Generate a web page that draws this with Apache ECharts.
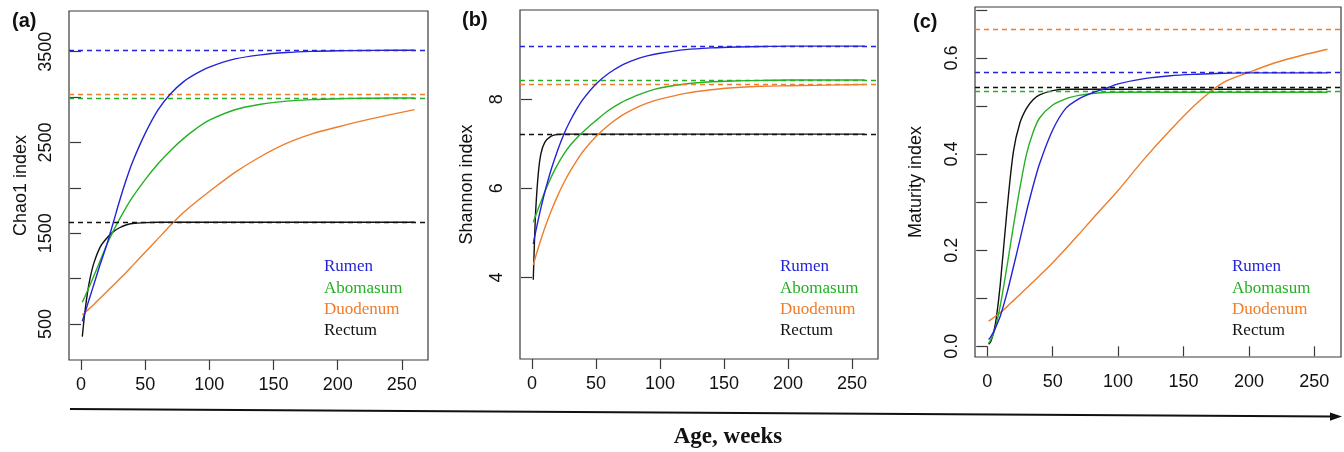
<!DOCTYPE html>
<html>
<head>
<meta charset="utf-8">
<script src="https://cdn.jsdelivr.net/npm/echarts@6/dist/echarts.min.js"></script>
<style>html,body{margin:0;padding:0;background:#fff}#c{width:1344px;height:452px}</style>
</head>
<body>
<div id="c"></div>
<script>
// ---- data ----
const weeks = [1,2,3,5,7,10,15,20,25,30,35,40,50,60,70,80,90,100,120,140,160,180,200,220,240,260];
const groups = ['Rumen','Abomasum','Duodenum','Rectum'];

const chaoRumen     = [530,575,620,710,800,935,1160,1370,1610,1855,2080,2280,2600,2860,3040,3170,3260,3330,3420,3465,3490,3503,3510,3513,3515,3515];
const chaoAbomasum  = [740,770,800,865,930,1030,1200,1370,1520,1655,1780,1895,2090,2265,2415,2545,2655,2745,2860,2920,2955,2972,2982,2987,2990,2990];
const chaoDuodenum  = [600,612,625,650,675,715,785,855,925,995,1065,1140,1290,1440,1590,1730,1850,1960,2170,2345,2490,2595,2670,2740,2803,2862];
const chaoRectum    = [360,500,630,840,1000,1170,1350,1445,1515,1560,1590,1607,1617,1620,1620,1620,1620,1620,1620,1620,1620,1620,1620,1620,1620,1620];
const chaoPlateau   = [3515,2990,3030,1620];

const shanRumen     = [4.75,4.90,5.04,5.31,5.56,5.91,6.42,6.85,7.22,7.52,7.78,8.00,8.34,8.58,8.76,8.88,8.97,9.03,9.11,9.15,9.17,9.18,9.19,9.19,9.19,9.19];
const shanAbomasum  = [5.24,5.32,5.40,5.55,5.70,5.92,6.25,6.53,6.77,6.97,7.13,7.27,7.52,7.75,7.93,8.06,8.17,8.25,8.34,8.39,8.41,8.42,8.43,8.43,8.43,8.43];
const shanDuodenum  = [4.28,4.38,4.48,4.67,4.85,5.11,5.49,5.83,6.13,6.39,6.62,6.83,7.16,7.42,7.63,7.79,7.91,8.00,8.13,8.21,8.26,8.29,8.30,8.31,8.32,8.33];
const shanRectum    = [3.95,4.85,5.55,6.35,6.78,7.03,7.17,7.21,7.215,7.215,7.215,7.215,7.215,7.215,7.215,7.215,7.215,7.215,7.215,7.215,7.215,7.215,7.215,7.215,7.215,7.215];
const shanPlateau   = [9.19,8.43,8.33,7.215];

const matRumen      = [0.014,0.017,0.021,0.031,0.043,0.063,0.110,0.165,0.222,0.280,0.333,0.380,0.450,0.495,0.515,0.527,0.536,0.546,0.557,0.563,0.566,0.568,0.569,0.569,0.569,0.569];
const matAbomasum   = [0.006,0.010,0.015,0.028,0.047,0.085,0.165,0.250,0.330,0.400,0.445,0.475,0.502,0.515,0.522,0.526,0.528,0.5285,0.5285,0.5285,0.5285,0.5285,0.5285,0.5285,0.5285,0.5285];
const matDuodenum   = [0.052,0.054,0.056,0.060,0.064,0.070,0.082,0.095,0.108,0.121,0.134,0.147,0.174,0.203,0.233,0.264,0.294,0.324,0.390,0.450,0.505,0.548,0.570,0.590,0.605,0.618];
const matRectum     = [0.004,0.007,0.012,0.030,0.060,0.130,0.280,0.405,0.465,0.495,0.513,0.523,0.532,0.535,0.535,0.535,0.535,0.535,0.535,0.535,0.535,0.535,0.535,0.535,0.535,0.535];
const matPlateau    = [0.569,0.5285,0.66,0.535];

const xTicks = [0,50,100,150,200,250];
const chaoTicks = [500,1000,1500,2000,2500,3000,3500];
const chaoLabels = [500,1500,2500,3500];
const shanTicks = [4,6,8];
const shanLabels = [4,6,8];
const matTicks = [0,0.1,0.2,0.3,0.4,0.5,0.6,0.7];
const matLabels = [0,0.2,0.4,0.6];

const panelTags = ['(a)','(b)','(c)'];
const yNames = ['Chao1 index','Shannon index','Maturity index'];
const xTitle = 'Age, weeks';

// ---- styling ----
const colors = ['#2323d8','#25b025','#ef7d2b','#111111'];
const axisFont = '"Liberation Sans", Arial, sans-serif';
const serif = '"Liberation Serif", "Times New Roman", serif';

const panels = [
  {grid:{left:69,top:11,width:359,height:349}, ymin:103, ymax:3948, ticks:chaoTicks, labels:chaoLabels,
   fmt:v=>String(v), series:[chaoRumen,chaoAbomasum,chaoDuodenum,chaoRectum], plateau:chaoPlateau, nameGap:39,
   tag:[12,29], legend:[324,267]},
  {grid:{left:520,top:10,width:358,height:349}, ymin:2.17, ymax:10.0, ticks:shanTicks, labels:shanLabels,
   fmt:v=>String(v), series:[shanRumen,shanAbomasum,shanDuodenum,shanRectum], plateau:shanPlateau, nameGap:44,
   tag:[462,28], legend:[780,267]},
  {grid:{left:975,top:7,width:366,height:350}, ymin:-0.0223, ymax:0.706, ticks:matTicks, labels:matLabels,
   fmt:v=>v.toFixed(1), series:[matRumen,matAbomasum,matDuodenum,matRectum], plateau:matPlateau, nameGap:50,
   tag:[913,30], legend:[1232,267]}
];

const grids=[], xAxes=[], yAxes=[], series=[], graphics=[];
panels.forEach((p,i)=>{
  grids.push(Object.assign({show:true, borderColor:'#3a3a3a', borderWidth:1.2, backgroundColor:'transparent'}, p.grid));
  xAxes.push({gridIndex:i, type:'value', min:-9.36, max:270.36,
    axisLine:{show:false}, splitLine:{show:false},
    axisTick:{show:true, customValues:xTicks, length:10, lineStyle:{color:'#3a3a3a', width:1.2}},
    axisLabel:{customValues:xTicks, margin:16, fontSize:18, fontFamily:axisFont, color:'#111'}});
  yAxes.push({gridIndex:i, type:'value', min:p.ymin, max:p.ymax,
    name:yNames[i], nameLocation:'middle', nameGap:p.nameGap, nameRotate:90,
    nameTextStyle:{fontSize:18, fontFamily:axisFont, color:'#111'},
    axisLine:{show:false}, splitLine:{show:false},
    axisTick:{show:true, customValues:p.ticks, length:11, lineStyle:{color:'#3a3a3a', width:1.2}},
    axisLabel:{customValues:p.labels, rotate:90, margin:14, fontSize:18, fontFamily:axisFont, color:'#111', formatter:p.fmt}});
  p.series.forEach((vals,k)=>{
    series.push({type:'line', name:groups[k]+i, xAxisIndex:i, yAxisIndex:i, showSymbol:false, symbol:'none',
      smooth:0.3, z:5-k,
      data:weeks.map((w,j)=>[w,vals[j]]),
      lineStyle:{color:colors[k], width:1.4},
      markLine:{silent:true, symbol:'none', label:{show:false},
        lineStyle:{color:colors[k], type:[5,4], width:1.4},
        data:[{yAxis:p.plateau[k]}]}
    });
  });
  graphics.push({type:'text', left:p.tag[0], top:p.tag[1]-18, style:{text:panelTags[i], font:'bold 20px "Liberation Sans", Arial, sans-serif', fill:'#111'}});
  groups.forEach((g,k)=>{
    graphics.push({type:'text', x:p.legend[0], y:p.legend[1]+k*21.3, style:{text:g, font:'17px '+serif, fill:colors[k], verticalAlign:'middle'}});
  });
});

graphics.push({type:'line', shape:{x1:70,y1:409,x2:1332,y2:416.5}, style:{stroke:'#111', lineWidth:2}});
graphics.push({type:'polygon', shape:{points:[[1342,416.6],[1330,412.4],[1330,420.8]]}, style:{fill:'#111'}});
graphics.push({type:'text', x:728, y:437, style:{text:xTitle, font:'bold 23px '+serif, fill:'#111', align:'center', verticalAlign:'middle'}});

const chart = echarts.init(document.getElementById('c'), null, {renderer:'canvas'});
chart.setOption({animation:false, backgroundColor:'#fff', grid:grids, xAxis:xAxes, yAxis:yAxes, series:series, graphic:graphics});
</script>
</body>
</html>
